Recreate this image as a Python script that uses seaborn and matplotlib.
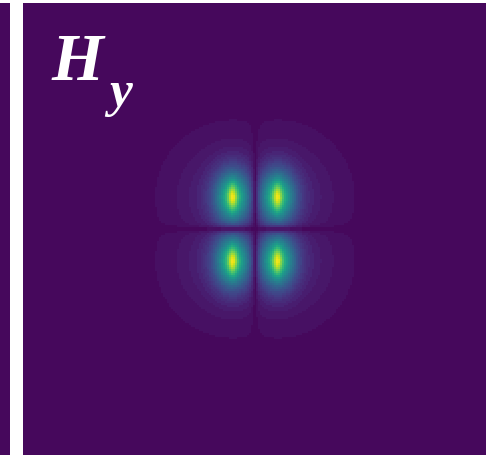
import numpy as np
import matplotlib
matplotlib.use("Agg")
import matplotlib.pyplot as plt
import seaborn as sns
from matplotlib.colors import ListedColormap

# Sampling grid (nm), centred on the emitter
x_nm = np.linspace(-232, 231, 232)
y_nm = np.linspace(-226, 226, 226)

# Lobe geometry of |H_y|: one hot spot per quadrant
lobe_offset = [23.0, 32.0]        # |x|, |y| of each hot spot
core_width = [3.0, 10.0]          # narrow Gaussian core (x, y)
mid_width = [12.0, 19.0]          # wider Gaussian shoulder (x, y)
halo_decay = 31.0                 # isotropic exponential halo
node_width = [4.0, 4.0]           # width of the x = 0 and y = 0 nodal lines
weights = [0.25, 0.50, 0.25]      # core, shoulder, halo
n_levels = 48

X, Y = np.meshgrid(x_nm, y_nm)
dx = np.abs(X) - lobe_offset[0]
dy = np.abs(Y) - lobe_offset[1]
core = np.exp(-(dx ** 2 / (2 * core_width[0] ** 2) + dy ** 2 / (2 * core_width[1] ** 2)))
mid = np.exp(-(dx ** 2 / (2 * mid_width[0] ** 2) + dy ** 2 / (2 * mid_width[1] ** 2)))
halo = np.exp(-np.hypot(dx, dy) / halo_decay)
node = np.tanh(np.abs(X) / node_width[0]) * np.tanh(np.abs(Y) / node_width[1])
field = node * (weights[0] * core + weights[1] * mid + weights[2] * halo)
field = field / field.max()

cmap = ListedColormap(sns.color_palette("viridis", n_levels))
bg = sns.color_palette("viridis", n_levels)[0]

fig = plt.figure(figsize=(4.96, 4.56), dpi=100)

# Edge of the neighbouring panel
ax_left = fig.add_axes([0, 0, 10 / 496, 452 / 456])
ax_left.set_facecolor(bg)
ax_left.set_xticks([])
ax_left.set_yticks([])
for s in ax_left.spines.values():
    s.set_visible(False)

ax = fig.add_axes([23 / 496, 0, 463 / 496, 452 / 456])
sns.heatmap(field, ax=ax, cmap=cmap, vmin=0, vmax=1, cbar=False,
            xticklabels=False, yticklabels=False, rasterized=True)
ax.set_xlabel("")
ax.set_ylabel("")

ax.text(0.062, 0.935, "H", transform=ax.transAxes, color="white",
        fontsize=48, fontweight="bold", fontstyle="italic",
        family="Liberation Serif", va="top", ha="left")
ax.text(0.186, 0.851, "y", transform=ax.transAxes, color="white",
        fontsize=37, fontweight="bold", fontstyle="italic",
        family="Liberation Serif", va="top", ha="left")

fig.savefig("out.png", dpi=100)
